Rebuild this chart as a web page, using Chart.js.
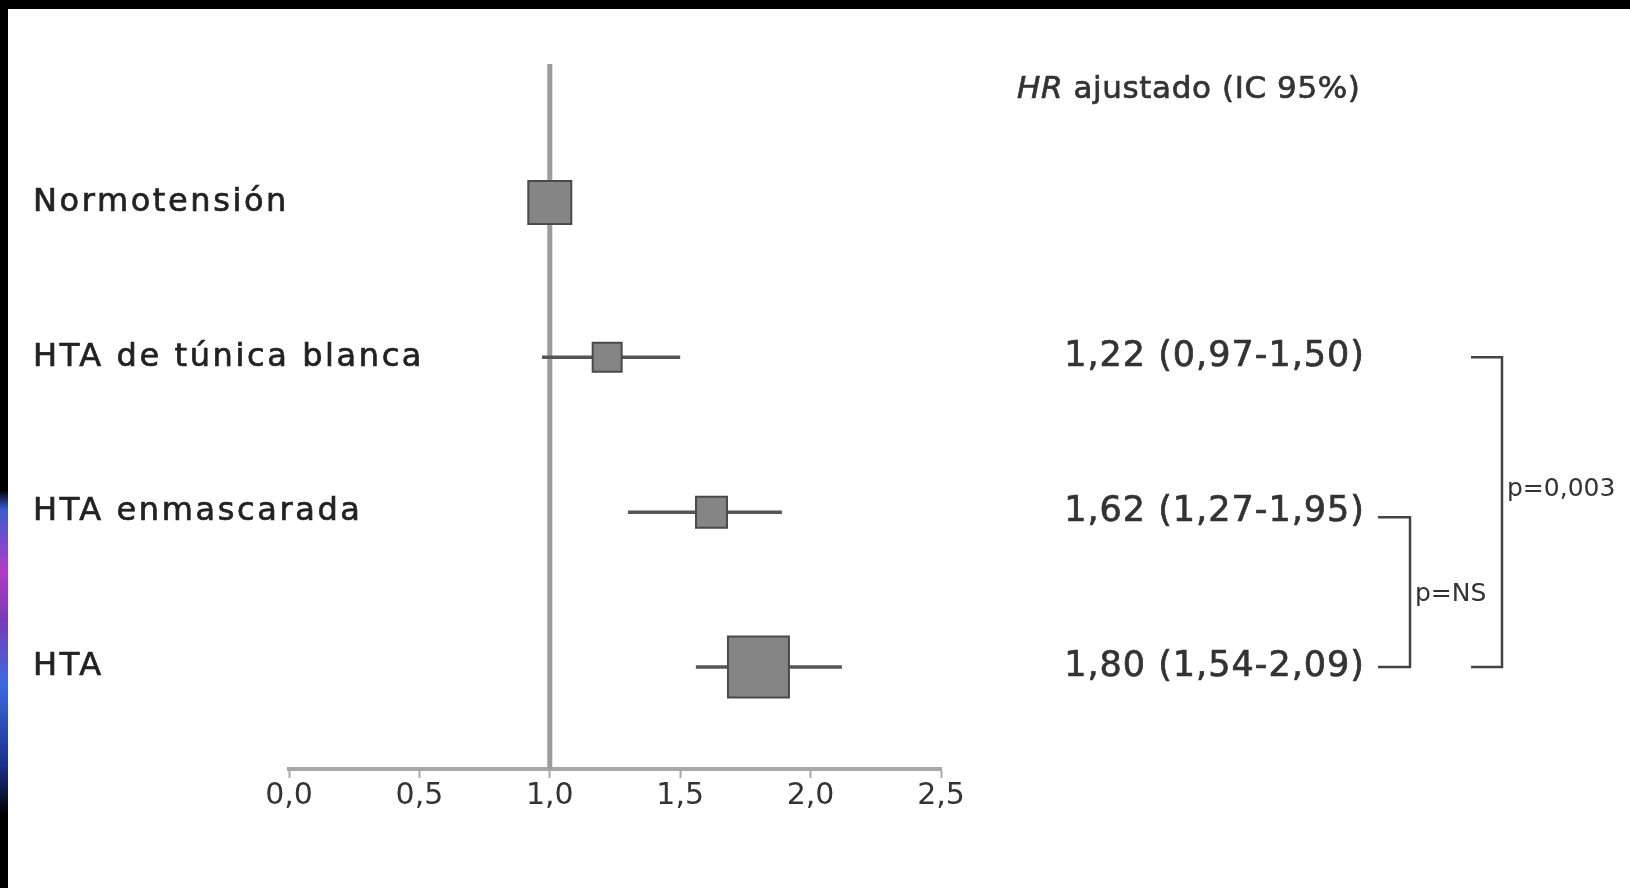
<!DOCTYPE html>
<html lang="es">
<head>
<meta charset="utf-8">
<title>HR ajustado</title>
<script src="https://cdn.jsdelivr.net/npm/chart.js@4.4.1/dist/chart.umd.min.js"></script>
<style>
    html, body { margin: 0; padding: 0; background: #000; overflow: hidden; }
    canvas { display: block; }
</style>
</head>
<body>
<canvas id="graficoForest" width="1630" height="888"></canvas>
<script>
// datos
const grupos = ["Normotensión", "HTA de túnica blanca", "HTA enmascarada", "HTA"];
const hr = [1.00, 1.22, 1.62, 1.80];
const icInferior = [null, 0.97, 1.30, 1.56];
const icSuperior = [null, 1.50, 1.89, 2.12];
const textoHR = ["", "1,22 (0,97-1,50)", "1,62 (1,27-1,95)", "1,80 (1,54-2,09)"];
const ticksX = [0, 0.5, 1.0, 1.5, 2.0, 2.5];
const valorP = ["p=0,003", "p=NS"];

const canvas = document.getElementById("graficoForest");

// limites del eje y (filas 0..3, invertido)
const yMin = -0.895;
const yMax = 3.659;

const fuente = "'DejaVu Sans', 'Liberation Sans', sans-serif";

// fondo negro, hoja blanca y la franja de color a la izquierda
const fondo = {
    id: "fondo",
    beforeDraw(chart) {
        const ctx = chart.ctx;
        ctx.save();
        ctx.fillStyle = "#000";
        ctx.fillRect(0, 0, chart.width, chart.height);
        ctx.fillStyle = "#fff";
        ctx.fillRect(8, 9, chart.width - 8, chart.height - 9);
        const g = ctx.createLinearGradient(0, 490, 0, 815);
        g.addColorStop(0, "#000");
        g.addColorStop(0.06, "#3a5bd0");
        g.addColorStop(0.25, "#b03cc8");
        g.addColorStop(0.4, "#7a3ab8");
        g.addColorStop(0.6, "#3a6ae0");
        g.addColorStop(0.85, "#1b2f8a");
        g.addColorStop(1, "#000");
        ctx.fillStyle = g;
        ctx.fillRect(0, 490, 8, 325);
        ctx.restore();
    }
};

// texto con un trazo fino para que salga algo mas grueso
function escribir(ctx, texto, x, y) {
    ctx.fillText(texto, x, y);
    ctx.strokeText(texto, x, y);
}

// etiquetas de grupo, columna de HR y corchetes de p
const textos = {
    id: "textos",
    afterDatasetsDraw(chart) {
        const ctx = chart.ctx;
        const y = chart.scales.y;
        ctx.save();
        ctx.textBaseline = "middle";
        ctx.lineWidth = 0.7;

        // nombres de los grupos
        ctx.fillStyle = "#222";
        ctx.strokeStyle = "#222";
        ctx.font = "32px " + fuente;
        ctx.letterSpacing = "2.6px";
        ctx.textAlign = "left";
        grupos.forEach((g, i) => escribir(ctx, g, 33, y.getPixelForValue(i)));

        // titulo de la columna
        ctx.fillStyle = "#333";
        ctx.strokeStyle = "#333";
        ctx.letterSpacing = "0.6px";
        ctx.font = "italic 31px " + fuente;
        escribir(ctx, "HR", 1017, 90);
        const anchoHR = ctx.measureText("HR").width;
        ctx.font = "31px " + fuente;
        escribir(ctx, " ajustado (IC 95%)", 1017 + anchoHR, 90);

        // valores
        ctx.font = "35px " + fuente;
        ctx.letterSpacing = "1px";
        ctx.textAlign = "right";
        textoHR.forEach((t, i) => {
            if (t) escribir(ctx, t, 1365, y.getPixelForValue(i));
        });
        ctx.letterSpacing = "0px";

        // corchetes
        const f1 = y.getPixelForValue(1);
        const f2 = y.getPixelForValue(2);
        const f3 = y.getPixelForValue(3);
        ctx.strokeStyle = "#444";
        ctx.lineWidth = 2.5;
        ctx.beginPath();
        ctx.moveTo(1471, f1); ctx.lineTo(1502, f1); ctx.lineTo(1502, f3); ctx.lineTo(1471, f3);
        ctx.moveTo(1378, f2 + 5); ctx.lineTo(1410, f2 + 5); ctx.lineTo(1410, f3); ctx.lineTo(1378, f3);
        ctx.stroke();

        ctx.fillStyle = "#333";
        ctx.font = "25px " + fuente;
        ctx.textAlign = "left";
        ctx.fillText(valorP[0], 1507, (f1 + f3) / 2 - 23);
        ctx.fillText(valorP[1], 1415, (f2 + f3) / 2 + 5);
        ctx.restore();
    }
};

// un segmento por cada intervalo de confianza
const lineasIC = grupos.map((g, i) => ({
    type: "line",
    label: "IC " + g,
    data: icInferior[i] === null ? [] : [{x: icInferior[i], y: i}, {x: icSuperior[i], y: i}],
    borderColor: "#555",
    borderWidth: 3.5,
    pointRadius: 0,
    order: 2
}));

const chartForest = new Chart(canvas, {
    type: "scatter",
    data: {
        datasets: [
            {
                type: "line",
                label: "referencia",
                data: [{x: 1, y: yMin}, {x: 1, y: yMax}],
                borderColor: "#9c9c9c",
                borderWidth: 5,
                pointRadius: 0,
                order: 3
            },
            ...lineasIC,
            {
                label: "HR",
                data: hr.map((v, i) => ({x: v, y: i})),
                pointStyle: "rect",
                pointRadius: [30.4, 20.5, 21.9, 43.1],
                backgroundColor: "#858585",
                borderColor: "#4a4a4a",
                borderWidth: 2,
                order: 1
            }
        ]
    },
    options: {
        responsive: false,
        animation: false,
        events: [],
        layout: {
            padding: {left: 289, right: 689, top: 64, bottom: 59}
        },
        plugins: {
            legend: {display: false},
            tooltip: {enabled: false}
        },
        scales: {
            x: {
                type: "linear",
                min: 0,
                max: 2.5,
                afterBuildTicks: (scale) => { scale.ticks = ticksX.map(v => ({value: v})); },
                afterFit: (scale) => { scale.height = 60; },
                border: {display: true, color: "#a8a8a8", width: 4},
                grid: {
                    display: true,
                    drawOnChartArea: false,
                    drawTicks: true,
                    tickLength: 9,
                    tickColor: "#a8a8a8",
                    tickWidth: 2
                },
                ticks: {
                    padding: 0,
                    color: "#333",
                    font: {family: fuente, size: 30},
                    callback: (v) => v.toFixed(1).replace(".", ",")
                }
            },
            y: {
                type: "linear",
                display: false,
                reverse: true,
                min: yMin,
                max: yMax
            }
        }
    },
    plugins: [fondo, textos]
});
</script>
</body>
</html>
